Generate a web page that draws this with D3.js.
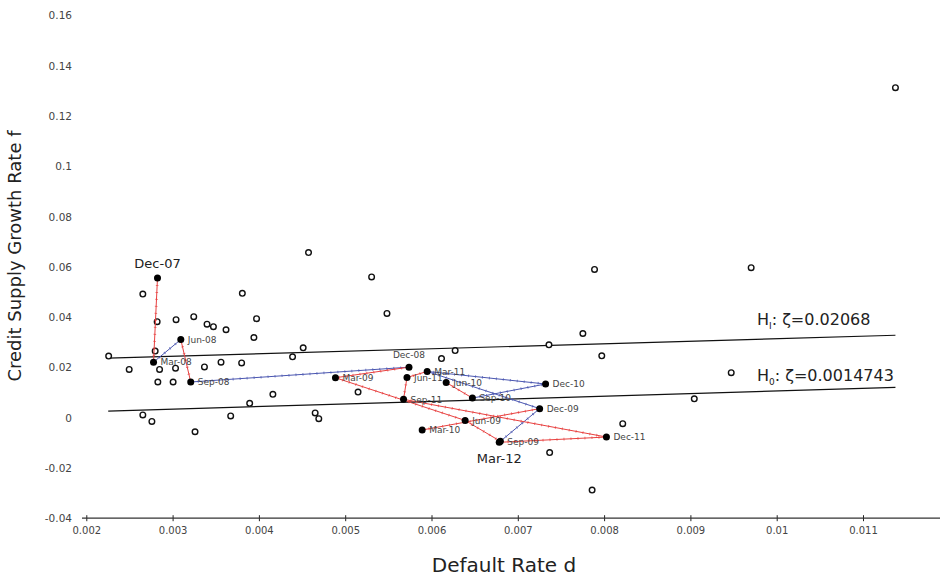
<!DOCTYPE html>
<html lang="en">
<head>
  <meta charset="UTF-8">
  <title>Credit Supply Growth vs Default Rate</title>
  <script src="https://cdn.jsdelivr.net/npm/d3@7/dist/d3.min.js"></script>
  <style>
    body { margin: 0; background: #fff; }
    svg text { font-family: "DejaVu Sans", sans-serif; }
    .tick text { fill: #444; font-size: 10px; }
    .yaxis .tick text { font-size: 10.5px; }
  </style>
</head>
<body>
  <script>
    // tick values for both axes
    var xTicks = [0.002, 0.003, 0.004, 0.005, 0.006, 0.007, 0.008, 0.009, 0.01, 0.011];
    var yTicks = [-0.04, -0.02, 0, 0.02, 0.04, 0.06, 0.08, 0.1, 0.12, 0.14, 0.16];

    // all observations (default rate d, credit growth f) - open circles
    var obsD = [0.002259, 0.002655, 0.002497, 0.002821, 0.002798, 0.002849, 0.002829, 0.003006,
                0.003034, 0.003040, 0.003245, 0.003399, 0.003473, 0.003619, 0.003808, 0.003973,
                0.003942, 0.003369, 0.003561, 0.003800, 0.004575, 0.004513, 0.004390, 0.004162,
                0.003893, 0.002655, 0.002760, 0.003260, 0.003673, 0.004652, 0.004694, 0.005306,
                0.005484, 0.005149, 0.006274, 0.006116, 0.007361, 0.007889, 0.007754, 0.007973,
                0.008216, 0.007369, 0.007861, 0.009473, 0.009045, 0.009704, 0.011376];
    var obsF = [0.0245, 0.0492, 0.0192, 0.0382, 0.0265, 0.0192, 0.0142, 0.0142,
                0.0197, 0.0390, 0.0402, 0.0372, 0.0362, 0.0350, 0.0495, 0.0394,
                0.0319, 0.0202, 0.0221, 0.0218, 0.0657, 0.0278, 0.0242, 0.0093,
                0.0057, 0.0011, -0.0015, -0.0056, 0.0007, 0.0019, -0.0004, 0.0560,
                0.0415, 0.0102, 0.0267, 0.0235, 0.0290, 0.0590, 0.0335, 0.0246,
                -0.0024, -0.0139, -0.0288, 0.0179, 0.0075, 0.0597, 0.1313];

    // quarterly path (filled dots)
    var quarters = ["Dec-07", "Mar-08", "Jun-08", "Sep-08", "Dec-08", "Mar-09", "Jun-09", "Sep-09", "Dec-09",
                    "Mar-10", "Jun-10", "Sep-10", "Dec-10", "Mar-11", "Jun-11", "Sep-11", "Dec-11", "Mar-12"];
    var qD = [0.002825, 0.002779, 0.003095, 0.003210, 0.005739, 0.004887, 0.006390, 0.006798, 0.007253,
              0.005892, 0.006170, 0.006474, 0.007322, 0.005950, 0.005716, 0.005676, 0.008027, 0.006785];
    var qF = [0.0556, 0.0221, 0.0311, 0.0142, 0.0201, 0.0159, -0.0011, -0.0094, 0.0036,
              -0.0049, 0.0140, 0.0078, 0.0134, 0.0184, 0.0160, 0.0073, -0.0077, -0.0098];

    // connections between quarters as drawn
    var links = [["Dec-07", "Mar-08"], ["Mar-08", "Jun-08"], ["Jun-08", "Sep-08"], ["Sep-08", "Dec-08"],
                 ["Dec-08", "Mar-09"], ["Mar-09", "Jun-09"], ["Jun-09", "Sep-09"], ["Sep-09", "Dec-09"],
                 ["Dec-09", "Mar-10"], ["Dec-09", "Mar-11"], ["Jun-10", "Sep-10"], ["Sep-10", "Dec-10"],
                 ["Dec-10", "Mar-11"], ["Mar-11", "Jun-11"], ["Jun-11", "Sep-11"], ["Sep-11", "Dec-11"],
                 ["Dec-11", "Mar-12"]];

    // hypothesis lines
    var hD = [0.002254, 0.011376];
    var h1F = [0.02367, 0.0328];
    var h0F = [0.00262, 0.01203];

    var width = 940, height = 577;

    var x = d3.scaleLinear().domain([0.002, 0.011]).range([86.3, 863]);
    var y = d3.scaleLinear().domain([-0.04, 0.16]).range([518.2, 15.6]);

    var svg = d3.select("body").append("svg")
        .attr("width", width)
        .attr("height", height);

    var fmt = function(v) { return String(+v.toFixed(4)); };

    // x axis sits at f = -0.04
    var xAxis = svg.append("g")
        .attr("transform", "translate(0," + y(-0.04) + ")")
        .call(d3.axisBottom(x).tickValues(xTicks).tickFormat(fmt).tickSize(3).tickPadding(6));
    xAxis.select(".domain").remove();
    xAxis.selectAll(".tick line").attr("y1", -3).attr("stroke", "#222");
    xAxis.append("line")
        .attr("x1", 82).attr("x2", width)
        .attr("stroke", "#333").attr("stroke-width", 1.2);

    var yAxis = svg.append("g")
        .attr("class", "yaxis")
        .attr("transform", "translate(76,0)")
        .call(d3.axisLeft(y).tickValues(yTicks).tickFormat(fmt).tickSize(0).tickPadding(4));
    yAxis.select(".domain").remove();

    // axis titles
    svg.append("text")
        .attr("x", 504).attr("y", 572)
        .attr("text-anchor", "middle")
        .attr("font-size", 20).attr("fill", "#222")
        .text("Default Rate d");

    svg.append("text")
        .attr("transform", "translate(21,256) rotate(-90)")
        .attr("text-anchor", "middle")
        .attr("font-size", 18).attr("fill", "#222")
        .text("Credit Supply Growth Rate f");

    // hypothesis lines
    [h1F, h0F].forEach(function(fs) {
        svg.append("line")
            .attr("x1", x(hD[0])).attr("y1", y(fs[0]))
            .attr("x2", x(hD[1])).attr("y2", y(fs[1]))
            .attr("stroke", "#111").attr("stroke-width", 1.2);
    });

    function hLabel(sub, rest, ty) {
        var t = svg.append("text")
            .attr("x", 757).attr("y", ty)
            .attr("font-size", 16).attr("fill", "#222");
        t.append("tspan").text("H");
        t.append("tspan").attr("font-size", 9).attr("dy", 4).text(sub);
        t.append("tspan").attr("dy", -4).text(rest);
    }
    hLabel("I", ": \u03B6=0.02068", 325);
    hLabel("0", ": \u03B6=0.0014743", 381);

    // open circles for all observations
    svg.append("g").selectAll("circle")
        .data(obsD)
        .enter().append("circle")
        .attr("cx", function(d) { return x(d); })
        .attr("cy", function(d, i) { return y(obsF[i]); })
        .attr("r", 2.8)
        .attr("fill", "#fff")
        .attr("stroke", "#111")
        .attr("stroke-width", 1.4);

    // quarterly path
    var idx = {};
    quarters.forEach(function(q, i) { idx[q] = i; });

    var seg = svg.append("g").selectAll("g")
        .data(links)
        .enter().append("g")
        .attr("stroke", function(l) {
            return qF[idx[l[1]]] > qF[idx[l[0]]] ? "#4a56b0" : "#e8403f";
        });
    seg.append("line")
        .attr("stroke-width", 1);
    seg.append("line")
        .attr("stroke-width", 2.6)
        .attr("stroke-dasharray", "1,6")
        .attr("opacity", 0.7);
    seg.selectAll("line")
        .attr("x1", function() { return x(qD[idx[this.parentNode.__data__[0]]]); })
        .attr("y1", function() { return y(qF[idx[this.parentNode.__data__[0]]]); })
        .attr("x2", function() { return x(qD[idx[this.parentNode.__data__[1]]]); })
        .attr("y2", function() { return y(qF[idx[this.parentNode.__data__[1]]]); });

    svg.append("g").selectAll("circle")
        .data(quarters)
        .enter().append("circle")
        .attr("cx", function(q, i) { return x(qD[i]); })
        .attr("cy", function(q, i) { return y(qF[i]); })
        .attr("r", 3.5)
        .attr("fill", "#000");

    // quarter labels: most sit to the right of the dot
    var above = ["Dec-07", "Dec-08"], below = ["Mar-12"], big = ["Dec-07", "Mar-12"];
    svg.append("g").selectAll("text")
        .data(quarters)
        .enter().append("text")
        .attr("x", function(q, i) {
            return above.indexOf(q) >= 0 || below.indexOf(q) >= 0 ? x(qD[i]) : x(qD[i]) + 7;
        })
        .attr("y", function(q, i) {
            if (q === "Dec-07") return y(qF[i]) - 10;
            if (above.indexOf(q) >= 0) return y(qF[i]) - 9;
            if (below.indexOf(q) >= 0) return y(qF[i]) + 21;
            return y(qF[i]) + 3.2;
        })
        .attr("text-anchor", function(q) {
            return above.indexOf(q) >= 0 || below.indexOf(q) >= 0 ? "middle" : "start";
        })
        .attr("font-size", function(q) { return big.indexOf(q) >= 0 ? 13 : 9; })
        .attr("fill", function(q) { return big.indexOf(q) >= 0 ? "#222" : "#444"; })
        .text(function(q) { return q; });
  </script>
</body>
</html>
